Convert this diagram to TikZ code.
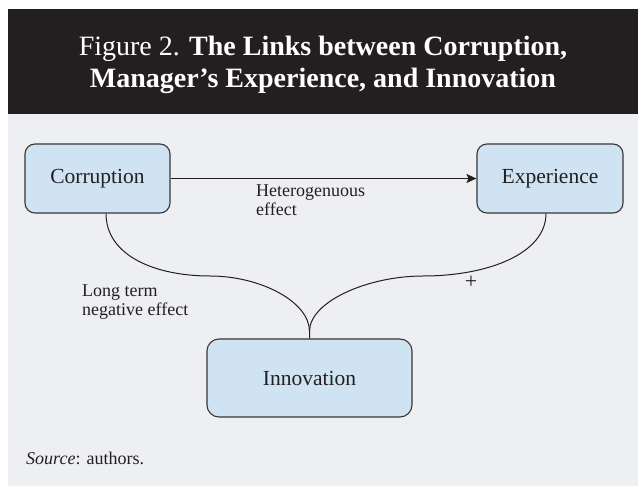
\documentclass[tikz,border=0pt]{standalone}
\usepackage{fontspec}
\setmainfont{Liberation Serif}
\usetikzlibrary{positioning,arrows.meta}
\definecolor{figdark}{HTML}{231F20}
\definecolor{figpanel}{HTML}{EEEFF3}
\definecolor{figblue}{HTML}{D0E3F2}

\begin{document}
\begin{tikzpicture}[x=1pt,y=-1pt,
    boxnode/.style={draw=figdark!90,fill=figblue,rounded corners=10pt,line width=1.1pt,text=figdark,font=\fontsize{21.5}{25}\selectfont},
    lbl/.style={inner sep=0pt,align=left,text=figdark,font=\fontsize{18}{19}\selectfont},
    link/.style={draw=figdark,line width=1pt}]
    \useasboundingbox (0,0) rectangle (638,486);
    \fill[white] (0,0) rectangle (638,486);
    \fill[figdark] (8,9) rectangle (638,114);
    \fill[figpanel] (8,114) rectangle (638,486);

    \node[text=white,align=center,anchor=north,inner sep=0pt,font=\fontsize{28}{32}\selectfont] (title) at (323,36)
      {Figure 2. \textbf{The Links between Corruption,}\\ \textbf{Manager’s Experience, and Innovation}};

    \node[boxnode,minimum width=145pt,minimum height=69pt] (corr) at (97.5,178.5) {Corruption};
    \node[boxnode,minimum width=146pt,minimum height=69pt] (exp) at (550,178.5) {Experience};
    \node[boxnode,minimum width=205pt,minimum height=78pt,rounded corners=12pt] (innov) at (309.5,378) {Innovation};

    % links
    \draw[link,line width=1.5pt,-{Stealth[length=10pt,width=9pt,inset=2pt]}] (corr) -- (exp);
    \coordinate (join) at ([yshift=7pt]innov.north);
    \coordinate (lowl) at (210,276);
    \coordinate (lowr) at (423,276);
    \draw[link] ([xshift=8.5pt]corr.south) .. controls +(0,42) and +(-55,0) .. (lowl)
      .. controls +(50,0) and +(0,-30) .. (join) -- (innov.north);
    \draw[link] ([xshift=-4pt]exp.south) .. controls +(0,40) and +(65,0) .. (lowr)
      .. controls +(-55,0) and +(0,-30) .. (join);

    \node[lbl,anchor=north west] (het) at (256,184.5) {Heterogenuous\\effect};
    \node[lbl,anchor=north west] (neg) at (82,284.5) {Long term\\negative effect};
    \node[lbl,font=\fontsize{22}{24}\selectfont] (plus) at (471,282) {+};
    \node[lbl,anchor=base west] (src) at (26,465) {\textit{Source}: authors.};
\end{tikzpicture}
\end{document}
